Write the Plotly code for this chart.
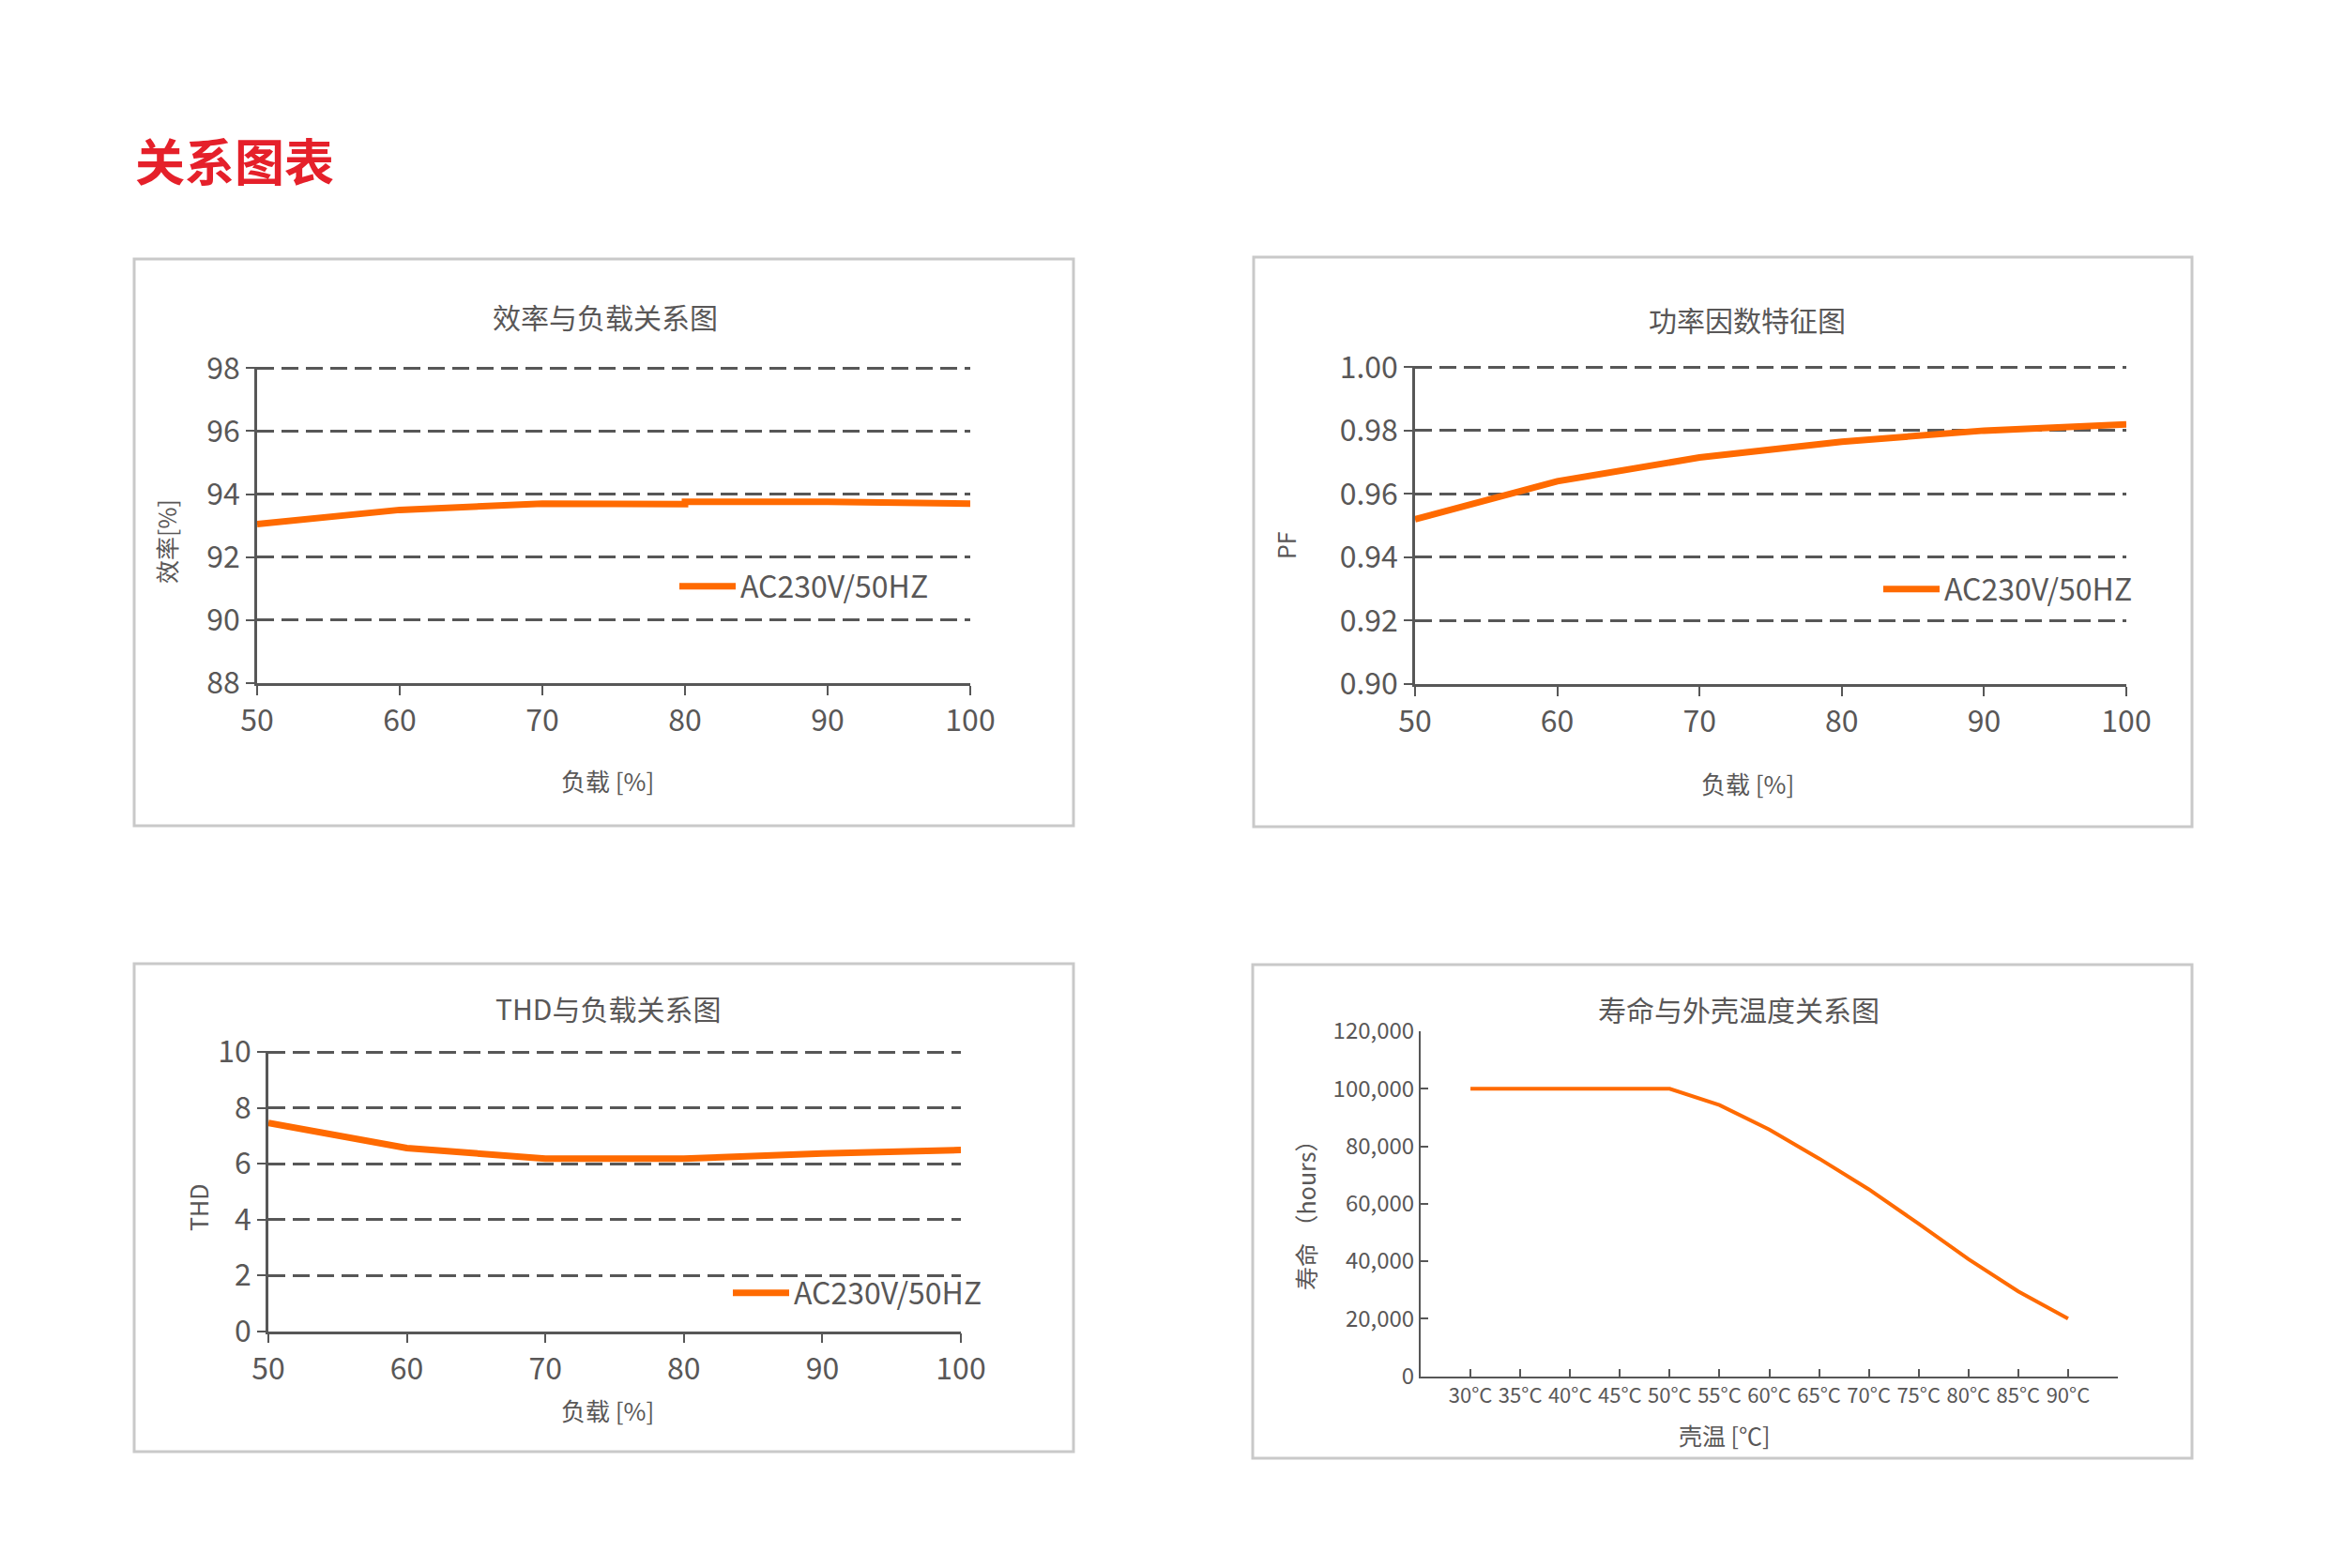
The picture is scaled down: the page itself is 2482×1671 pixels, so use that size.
import plotly.graph_objects as go

W, H = 2482, 1671           # browser window
OFF = 8                      # page body margin
FW, FH = W - 2 * OFF, H - 2 * OFF   # figure size so the page fits the window
FONT = "Noto Sans CJK SC"
TXT = "#595757"
GRID = "#575757"
ORANGE = "#FF6A00"
BORDER = "#c9c9c9"

# ---- data ----
load = [50, 60, 70, 80, 80, 90, 100]
efficiency = [93.05, 93.5, 93.7, 93.68, 93.76, 93.76, 93.7]

pf_load = [50, 60, 70, 80, 90, 100]
pf = [0.952, 0.964, 0.9715, 0.9765, 0.980, 0.982]

thd_load = [50, 60, 70, 80, 90, 100]
thd = [7.46, 6.56, 6.18, 6.18, 6.37, 6.49]

temps = [30, 35, 40, 45, 50, 55, 60, 65, 70, 75, 80, 85, 90]
temp_labels = ["30°C", "35°C", "40°C", "45°C", "50°C", "55°C", "60°C",
               "65°C", "70°C", "75°C", "80°C", "85°C", "90°C"]
life = [100000, 100000, 100000, 100000, 100000, 94300, 85800, 75700,
        65000, 53000, 40700, 29500, 20000]

series_name = "AC230V/50HZ"


def px(x):
    return (x - OFF) / FW


def py(y):
    return 1 - (y - OFF) / FH


fig = go.Figure()

fig.add_trace(go.Scatter(x=load, y=efficiency, mode="lines", name=series_name,
                         line=dict(color=ORANGE, width=7), xaxis="x", yaxis="y",
                         legend="legend"))
fig.add_trace(go.Scatter(x=pf_load, y=pf, mode="lines", name=series_name,
                         line=dict(color=ORANGE, width=7), xaxis="x2", yaxis="y2",
                         legend="legend2"))
fig.add_trace(go.Scatter(x=thd_load, y=thd, mode="lines", name=series_name,
                         line=dict(color=ORANGE, width=7), xaxis="x3", yaxis="y3",
                         legend="legend3"))
fig.add_trace(go.Scatter(x=temps, y=life, mode="lines", name="寿命",
                         line=dict(color=ORANGE, width=4), xaxis="x4", yaxis="y4",
                         showlegend=False))

tickfont = dict(family=FONT, size=32, color=TXT)


def xaxis(dom, rng, dtick, **kw):
    d = dict(domain=[px(dom[0]), px(dom[1])], range=rng, dtick=dtick, tick0=rng[0],
             showline=True, linecolor=GRID, linewidth=2.5, ticks="outside",
             ticklen=10, tickwidth=2, tickcolor=GRID, showgrid=False,
             zeroline=False, tickfont=tickfont, fixedrange=True, automargin=False)
    d.update(kw)
    return d


def yaxis(dom, rng, dtick, anchor, **kw):
    # small headroom so the top gridline is drawn
    span = rng[1] - rng[0]
    d = dict(domain=[py(dom[1]), py(dom[0])], range=[rng[0], rng[1] + span * 0.004],
             dtick=dtick, tick0=rng[0],
             anchor=anchor, showline=True, linecolor=GRID, linewidth=2.5,
             ticks="outside", ticklen=9, tickwidth=2, tickcolor=GRID,
             showgrid=True, gridcolor=GRID, gridwidth=2.5, griddash="18px,8px",
             zeroline=False, tickfont=tickfont, fixedrange=True, automargin=False)
    d.update(kw)
    return d


layout = dict(
    width=FW, height=FH, margin=dict(l=0, r=0, t=0, b=0, pad=0, autoexpand=False),
    paper_bgcolor="white", plot_bgcolor="white",
    font=dict(family=FONT, color=TXT),
    xaxis=xaxis((274, 1034), [50, 100], 10, anchor="y"),
    yaxis=yaxis((391, 728), [88, 98], 2, "x"),
    xaxis2=xaxis((1508, 2266), [50, 100], 10, anchor="y2"),
    yaxis2=yaxis((390, 729), [0.90, 1.00], 0.02, "x2", tickformat=".2f"),
    xaxis3=xaxis((286, 1024), [50, 100], 10, anchor="y3"),
    yaxis3=yaxis((1120, 1418.6), [0, 10], 2, "x3"),
    xaxis4=dict(domain=[px(1514), px(2257)], range=[25, 95], anchor="y4",
                tickmode="array", tickvals=temps + [95], ticktext=temp_labels + [""],
                showline=True, linecolor=GRID, linewidth=2, ticks="inside",
                ticklen=8, tickwidth=1.5, tickcolor=GRID, showgrid=False,
                zeroline=False, fixedrange=True, automargin=False,
                tickfont=dict(family=FONT, size=22, color=TXT)),
    yaxis4=dict(domain=[py(1466.5), py(1099)], range=[0, 120000], dtick=20000,
                anchor="x4", showline=True, linecolor=GRID, linewidth=2,
                ticks="inside", ticklen=8, tickwidth=1.5, tickcolor=GRID,
                showgrid=False, zeroline=False, tickformat=",", fixedrange=True,
                automargin=False,
                tickfont=dict(family=FONT, size=24, color=TXT)),
    yaxis5=dict(domain=[py(1466.5), py(1099)], range=[0, 120000], overlaying="y4",
                anchor="x4", tickmode="array",
                tickvals=[20000, 40000, 60000, 80000, 100000],
                showticklabels=False, ticks="", showline=False, showgrid=True,
                gridcolor=GRID, gridwidth=2.5, griddash="16px,10px",
                zeroline=False, fixedrange=True, automargin=False),
    showlegend=True,
)

legfont = dict(family=FONT, size=32, color=TXT)
for key, (lx, ly) in {"legend": (719, 625), "legend2": (2002, 628),
                      "legend3": (776, 1378)}.items():
    layout[key] = dict(x=px(lx), y=py(ly), xanchor="left", yanchor="middle",
                       bgcolor="rgba(0,0,0,0)", borderwidth=0, font=legfont,
                       itemwidth=60, tracegroupgap=0)

fig.update_layout(**layout)

# box borders
boxes = [(143, 276, 1144, 880), (1336, 274, 2336, 881),
         (143, 1027, 1144, 1547), (1335, 1028, 2336, 1554)]
for x0, y0, x1, y1 in boxes:
    fig.add_shape(type="rect", xref="paper", yref="paper",
                  x0=px(x0), x1=px(x1), y0=py(y0), y1=py(y1),
                  line=dict(color=BORDER, width=3), layer="below")


def ann(text, x, y, size, angle=0, color=TXT, xanchor="center", bold=False):
    fig.add_annotation(text=("<b>%s</b>" % text) if bold else text,
                       x=px(x), y=py(y), xref="paper", yref="paper",
                       showarrow=False, textangle=angle, xanchor=xanchor,
                       yanchor="middle",
                       font=dict(family=FONT, size=size, color=color))


ann("关系图表", 142, 170, 53, color="#E5202A", xanchor="left", bold=True)

ann("效率与负载关系图", 645, 337, 30)
ann("负载 [%]", 647, 831, 26)
ann("效率[%]", 177, 577, 25, angle=-90)

ann("功率因数特征图", 1862, 340, 30)
ann("负载 [%]", 1862, 834, 26)
ann("PF", 1370, 581, 25, angle=-90)

ann("THD与负载关系图", 648, 1074, 30)
ann("负载 [%]", 647, 1502, 26)
ann("THD", 211, 1287, 25, angle=-90)

ann("寿命与外壳温度关系图", 1853, 1075, 30)
ann("壳温 [℃]", 1838, 1529, 25)
ann("寿命 （hours）", 1391, 1289, 25, angle=-90)

fig.write_html("out.html")
